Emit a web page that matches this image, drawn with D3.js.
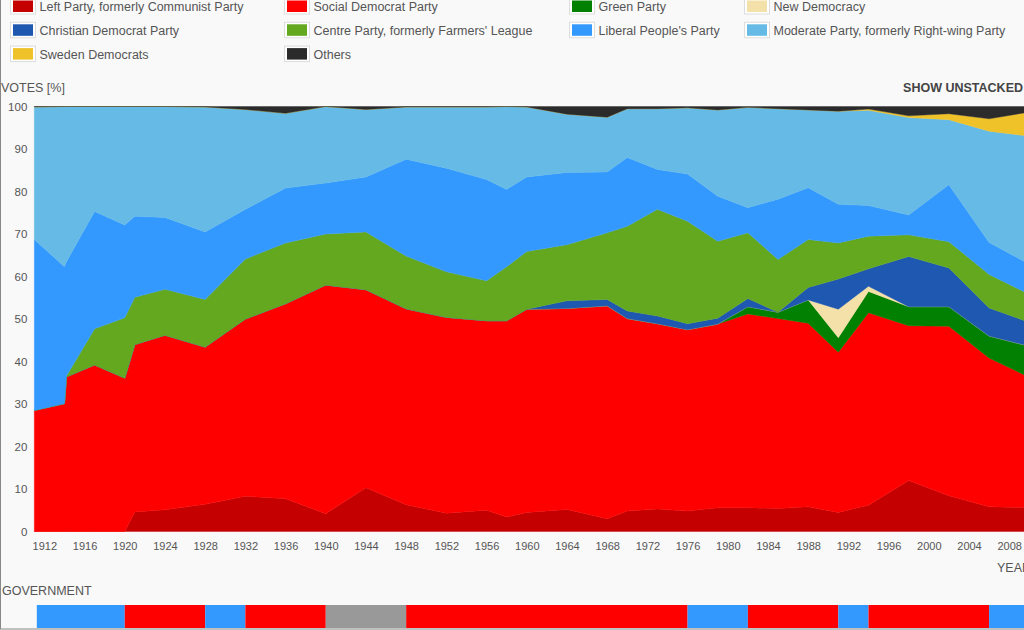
<!DOCTYPE html>
<html lang="en">
  <head>
    <meta charset="utf-8" />
    <title>Swedish elections</title>
    <style>
      body { margin: 0; overflow: hidden; background: #f9f9f9; }
      text { font-family: "Liberation Sans", Arial, sans-serif; fill: #555; }
    </style>
  </head>
  <body>
    <div id="vis"></div>
    <script src="https://d3js.org/d3.v7.min.js"></script>
    <script>
      const years = [1911, 1914, 1914.2, 1917, 1920, 1921, 1924, 1928, 1932, 1936, 1940, 1944, 1948, 1952, 1956, 1958,
        1960, 1964, 1968, 1970, 1973, 1976, 1979, 1982, 1985, 1988, 1991, 1994, 1998, 2002, 2006, 2010];

      const leftParty = [0, 0, 0, 0, 0, 4.6, 5.1, 6.4, 8.3, 7.7, 4.2, 10.3, 6.3, 4.3, 5.0, 3.4,
        4.5, 5.2, 3.0, 4.8, 5.3, 4.8, 5.6, 5.6, 5.4, 5.8, 4.5, 6.2, 12.0, 8.4, 5.8, 5.6];
      const socialDem = [28.5, 30.1, 36.4, 39.2, 36.1, 39.4, 41.1, 37.0, 41.7, 45.9, 53.8, 46.6, 46.1, 46.1, 44.6, 46.2,
        47.8, 47.3, 50.1, 45.3, 43.6, 42.7, 43.2, 45.6, 44.7, 43.2, 37.7, 45.3, 36.4, 39.9, 35.0, 30.7];
      const greenParty = [0, 0, 0, 0, 0, 0, 0, 0, 0, 0, 0, 0, 0, 0, 0, 0,
        0, 0, 0, 0, 0, 0, 0, 1.7, 1.5, 5.5, 3.4, 5.0, 4.5, 4.6, 5.2, 7.3];
      const newDemocracy = [0, 0, 0, 0, 0, 0, 0, 0, 0, 0, 0, 0, 0, 0, 0, 0,
        0, 0, 0, 0, 0, 0, 0, 0, 0, 0, 6.7, 1.2, 0, 0, 0, 0];
      const christianDem = [0, 0, 0, 0, 0, 0, 0, 0, 0, 0, 0, 0, 0, 0, 0, 0,
        0, 1.8, 1.5, 1.8, 1.8, 1.4, 1.4, 1.9, 0, 2.9, 7.1, 4.1, 11.8, 9.1, 6.6, 5.6];
      const centreParty = [0, 0, 0.2, 8.5, 14.2, 11.1, 10.8, 11.2, 14.1, 14.3, 12.0, 13.6, 12.4, 10.7, 9.4, 12.7,
        13.6, 13.2, 15.7, 19.9, 25.1, 24.1, 18.1, 15.5, 12.4, 11.3, 8.5, 7.7, 5.1, 6.2, 7.9, 6.6];
      const liberalParty = [40.2, 32.2, 26.9, 27.6, 21.8, 19.1, 16.9, 15.9, 11.7, 12.9, 12.0, 12.9, 22.8, 24.4, 23.8, 18.2,
        17.5, 17.0, 14.3, 16.2, 9.4, 11.1, 10.6, 5.9, 14.2, 12.2, 9.1, 7.2, 4.7, 13.4, 7.5, 7.1];
      const moderateParty = [31.2, 37.7, 36.5, 24.7, 27.9, 25.8, 26.1, 29.4, 23.5, 17.6, 18.0, 15.9, 12.3, 14.4, 17.1, 19.5,
        16.5, 13.7, 12.9, 11.5, 14.3, 15.6, 20.3, 23.6, 21.3, 18.3, 21.9, 22.4, 22.9, 15.3, 26.2, 30.1];
      const swedenDem = [0, 0, 0, 0, 0, 0, 0, 0, 0, 0, 0, 0, 0, 0, 0, 0,
        0, 0, 0, 0, 0, 0, 0, 0, 0, 0, 0, 0.3, 0.4, 1.4, 2.9, 5.7];
      const others = [0.1, 0, 0, 0, 0, 0, 0, 0.1, 0.7, 1.6, 0, 0.7, 0.1, 0.1, 0.1, 0,
        0.1, 1.8, 2.5, 0.5, 0.5, 0.3, 0.8, 0.2, 0.5, 0.8, 1.1, 0.6, 2.2, 1.7, 2.9, 1.3];

      const parties = ["Left Party, formerly Communist Party", "Social Democrat Party", "Green Party", "New Democracy",
        "Christian Democrat Party", "Centre Party, formerly Farmers' League", "Liberal People's Party",
        "Moderate Party, formerly Right-wing Party", "Sweden Democrats", "Others"];
      const partyValues = [leftParty, socialDem, greenParty, newDemocracy, christianDem, centreParty,
        liberalParty, moderateParty, swedenDem, others];
      const partyColors = ["#c40000", "#ff0000", "#018001", "#f3e1a9", "#1f58b0", "#63a81f", "#3399ff", "#66bbe6",
        "#efc22a", "#2b2b2b"];

      const govStart = [1911.25, 1920, 1928, 1932, 1940, 1948, 1976, 1982, 1991, 1994, 2006];
      const govEnd = [1920, 1928, 1932, 1940, 1948, 1976, 1982, 1991, 1994, 2006, 2010];
      const govColors = ["#3399ff", "#ff0000", "#3399ff", "#ff0000", "#999999", "#ff0000", "#3399ff", "#ff0000",
        "#3399ff", "#ff0000", "#3399ff"];

      const xTicks = d3.range(1912, 2009, 4);
      const yTicks = d3.range(0, 101, 10);

      const svg = d3.select("#vis").append("svg").attr("width", 1040).attr("height", 630);

      const x = d3.scaleLinear().domain([1911, 2010]).range([34.3, 1029.3]);
      const y = d3.scaleLinear().domain([0, 100]).range([531.5, 106.5]);

      // frame
      svg.append("rect").attr("x", 0.5).attr("y", -5).attr("width", 1100).attr("height", 634)
        .attr("fill", "#f9f9f9").attr("stroke", "#888");

      // legend
      const legend = svg.append("g");
      const colX = [11, 285, 570, 745];
      parties.forEach((name, i) => {
        const g = legend.append("g")
          .attr("transform", `translate(${colX[i % 4]},${6.5 + Math.floor(i / 4) * 23.8})`);
        g.append("rect").attr("x", -0.5).attr("y", -8).attr("width", 25).attr("height", 15.5)
          .attr("fill", "#fff").attr("stroke", "#ddd");
        g.append("rect").attr("x", 2).attr("y", -6).attr("width", 20).attr("height", 11.5)
          .attr("fill", partyColors[i]);
        g.append("text").attr("x", 28.5).attr("y", 4.5).style("font-size", "12.5px").text(name);
      });

      svg.append("text").attr("x", 1).attr("y", 91.5).style("font-size", "12.5px").text("VOTES [%]");
      svg.append("text").attr("x", 1023).attr("y", 91.5).attr("text-anchor", "end")
        .style("font-size", "12.5px").style("font-weight", "bold").style("fill", "#444").text("SHOW UNSTACKED");

      // stacked areas
      const table = years.map((yr, j) => {
        const row = { year: yr };
        parties.forEach((p, i) => { row[p] = partyValues[i][j]; });
        return row;
      });
      const stack = d3.stack().keys(parties)(table);
      const area = d3.area()
        .x(d => x(d.data.year))
        .y0(d => y(d[0]))
        .y1(d => y(d[1]));

      svg.append("g").selectAll("path")
        .data(stack)
        .join("path")
        .attr("d", area)
        .attr("fill", (d, i) => partyColors[i])
        .attr("stroke", (d, i) => partyColors[i])
        .attr("stroke-width", 0.4);

      // axes
      const yAxis = d3.axisLeft(y).tickValues(yTicks).tickSize(0).tickPadding(7);
      svg.append("g").attr("transform", `translate(${x(1911)},0)`).call(yAxis)
        .call(g => g.select(".domain").remove())
        .call(g => g.selectAll("text").style("font-size", "11.5px").style("fill", "#555").attr("font-family", null));

      const xAxis = d3.axisBottom(x).tickValues(xTicks).tickFormat(d3.format("d")).tickSize(0).tickPadding(11);
      svg.append("g").attr("transform", `translate(0,${y(0)})`).call(xAxis)
        .call(g => g.select(".domain").remove())
        .call(g => g.selectAll("text").style("font-size", "11px").style("fill", "#555").attr("font-family", null));

      svg.append("text").attr("x", 1031).attr("y", 571.5).attr("text-anchor", "end")
        .style("font-size", "12.5px").text("YEAR");

      // government
      svg.append("text").attr("x", 2).attr("y", 594.5).style("font-size", "12.5px").text("GOVERNMENT");
      svg.append("g").selectAll("rect")
        .data(govStart)
        .join("rect")
        .attr("x", d => x(d))
        .attr("y", 605)
        .attr("width", (d, i) => x(govEnd[i]) - x(d))
        .attr("height", 23)
        .attr("fill", (d, i) => govColors[i]);
    </script>
  </body>
</html>
